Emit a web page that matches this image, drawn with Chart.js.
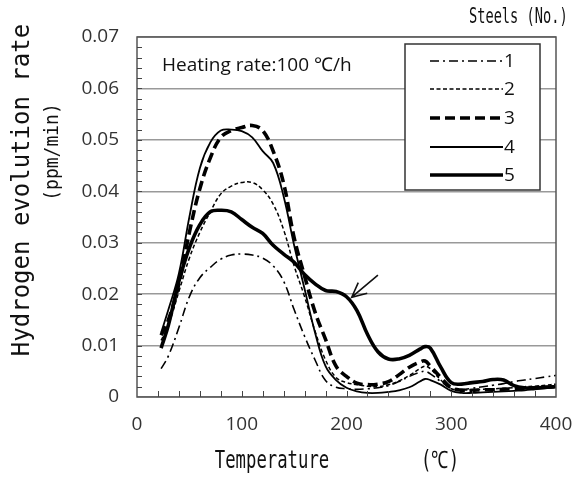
<!DOCTYPE html>
<html>
<head>
<meta charset="utf-8">
<script src="https://cdn.jsdelivr.net/npm/chart.js@4"></script>
<style>
  body { margin: 0; background: #fff; }
</style>
</head>
<body>
<canvas id="tdsChart" width="574" height="477"></canvas>
<script>
// Temperature points (°C) shared by all steels
const temps = [23, 30, 40, 50, 60, 70, 80, 90, 100, 110, 120, 130, 140, 150, 160, 170, 180, 190, 200,
    210, 220, 230, 240, 250, 260, 270, 275, 280, 290, 300, 310, 320, 330, 340, 350, 360, 370, 380, 390, 400];

// Hydrogen evolution rate (ppm/min) per steel
const steel1 = [0.0055, 0.008, 0.0135, 0.0195, 0.0232, 0.0252, 0.0268, 0.0276, 0.0278, 0.0276, 0.027, 0.0255, 0.0225,
    0.017, 0.0118, 0.0072, 0.0032, 0.0019, 0.0016, 0.0015, 0.0016, 0.0018, 0.0022, 0.003, 0.004, 0.0048, 0.005,
    0.0045, 0.003, 0.0017, 0.0015, 0.0017, 0.002, 0.0023, 0.0026, 0.003, 0.0033, 0.0036, 0.0039, 0.0042];
const steel2 = [0.011, 0.014, 0.0205, 0.027, 0.032, 0.036, 0.0395, 0.041, 0.0417, 0.0417, 0.0403, 0.0375, 0.0325,
    0.0255, 0.0195, 0.0128, 0.0072, 0.0038, 0.0028, 0.0024, 0.0021, 0.002, 0.0024, 0.0031, 0.0042, 0.0055, 0.006,
    0.0055, 0.0033, 0.0016, 0.0014, 0.0014, 0.0015, 0.0016, 0.0017, 0.0018, 0.002, 0.0021, 0.0023, 0.0025];
const steel3 = [0.012, 0.015, 0.022, 0.032, 0.0405, 0.0465, 0.0505, 0.0518, 0.0524, 0.0528, 0.0518, 0.0478, 0.0415,
    0.031, 0.0235, 0.0165, 0.0112, 0.006, 0.004, 0.0027, 0.0024, 0.0025, 0.003, 0.0043, 0.0058, 0.0068, 0.007,
    0.006, 0.0038, 0.0018, 0.0013, 0.0013, 0.0014, 0.0014, 0.0015, 0.0016, 0.0017, 0.0018, 0.0019, 0.002];
const steel4 = [0.0125, 0.017, 0.024, 0.035, 0.0445, 0.0495, 0.0518, 0.052, 0.0517, 0.0505, 0.0478, 0.0455, 0.039,
    0.0295, 0.021, 0.0125, 0.006, 0.0033, 0.0018, 0.0011, 0.0008, 0.0008, 0.001, 0.0013, 0.0019, 0.003, 0.0035,
    0.0033, 0.0024, 0.0012, 0.0008, 0.0008, 0.0009, 0.001, 0.0011, 0.0012, 0.0013, 0.0015, 0.0017, 0.002];
const steel5 = [0.0095, 0.014, 0.0225, 0.029, 0.0335, 0.036, 0.0363, 0.036, 0.0345, 0.033, 0.0318, 0.0295, 0.0278,
    0.0262, 0.0238, 0.022, 0.0207, 0.0205, 0.0195, 0.0168, 0.0122, 0.0088, 0.0074, 0.0074, 0.0081, 0.0093, 0.0098,
    0.0095, 0.0058, 0.0028, 0.0025, 0.0028, 0.003, 0.0034, 0.0033, 0.0022, 0.0018, 0.0018, 0.0019, 0.002];

const steelNames = ['1', '2', '3', '4', '5'];
const xTicks = [0, 100, 200, 300, 400];
const yTicks = [0, 0.01, 0.02, 0.03, 0.04, 0.05, 0.06, 0.07];
// arrow pointing at the shoulder of steel 5: [tail, head] in data units
const arrowPts = [[230, 0.0237], [205, 0.0194]];

const lineStyles = [
    { borderWidth: 1.6, borderDash: [9, 4, 2, 4] },
    { borderWidth: 1.5, borderDash: [4, 2.5] },
    { borderWidth: 3.6, borderDash: [10, 5] },
    { borderWidth: 1.8, borderDash: [] },
    { borderWidth: 3.6, borderDash: [] },
];

const toPts = vals => vals.map((v, i) => ({ x: temps[i], y: v }));

const datasets = [steel1, steel2, steel3, steel4, steel5].map((vals, i) => ({
    label: steelNames[i],
    data: toPts(vals),
    borderColor: '#000',
    borderWidth: lineStyles[i].borderWidth,
    borderDash: lineStyles[i].borderDash,
    pointRadius: 0,
    tension: 0.4,
    fill: false,
}));

const tickFont = { family: '"Open Sans"', size: 19 };
const monoFont = '"DejaVu Sans Mono"';

// draw condensed text (the original uses a narrow gothic face)
function narrowText(ctx, text, x, y, size, sx, rot) {
    ctx.save();
    ctx.translate(x, y);
    if (rot) ctx.rotate(rot);
    ctx.scale(sx, 1);
    ctx.font = size + 'px ' + monoFont;
    ctx.fillText(text, 0, 0);
    ctx.restore();
}

// frame, minor ticks, legend box, titles and arrow
const decorPlugin = {
    id: 'decor',
    afterDraw(chart) {
        const ctx = chart.ctx;
        const a = chart.chartArea;
        const xs = chart.scales.x, ys = chart.scales.y;
        ctx.save();

        // plot frame
        ctx.strokeStyle = '#555';
        ctx.lineWidth = 1.5;
        ctx.strokeRect(a.left, a.top, a.right - a.left, a.bottom - a.top);

        // minor ticks
        ctx.lineWidth = 1;
        ctx.strokeStyle = '#444';
        ctx.beginPath();
        for (let i = 1; i < 35; i++) {
            const py = Math.round(ys.getPixelForValue(i * 0.002)) + 0.5;
            ctx.moveTo(a.left, py);
            ctx.lineTo(a.left + 5, py);
        }
        for (let i = 1; i < 20; i++) {
            const px = Math.round(xs.getPixelForValue(i * 20)) + 0.5;
            ctx.moveTo(px, a.bottom);
            ctx.lineTo(px, a.bottom - 6);
        }
        ctx.stroke();

        // arrow
        const t = arrowPts[0], h = arrowPts[1];
        const tx = xs.getPixelForValue(t[0]), ty = ys.getPixelForValue(t[1]);
        const hx = xs.getPixelForValue(h[0]), hy = ys.getPixelForValue(h[1]);
        const ang = Math.atan2(ty - hy, tx - hx);
        ctx.strokeStyle = '#111';
        ctx.lineWidth = 1.6;
        ctx.beginPath();
        ctx.moveTo(tx, ty);
        ctx.lineTo(hx, hy);
        ctx.moveTo(hx + 16 * Math.cos(ang - 0.45), hy + 16 * Math.sin(ang - 0.45));
        ctx.lineTo(hx, hy);
        ctx.lineTo(hx + 16 * Math.cos(ang + 0.45), hy + 16 * Math.sin(ang + 0.45));
        ctx.stroke();

        // legend box
        const box = { x: 405, y: 44, w: 135, h: 146 };
        ctx.fillStyle = '#fff';
        ctx.fillRect(box.x, box.y, box.w, box.h);
        ctx.strokeStyle = '#333';
        ctx.lineWidth = 1.5;
        ctx.strokeRect(box.x, box.y, box.w, box.h);
        const rowY = [61, 89, 118, 147, 175];
        ctx.font = '19px "Open Sans"';
        ctx.textBaseline = 'middle';
        ctx.textAlign = 'left';
        datasets.forEach((ds, i) => {
            ctx.strokeStyle = '#000';
            ctx.lineWidth = ds.borderWidth;
            ctx.setLineDash(ds.borderDash);
            ctx.beginPath();
            ctx.moveTo(430, rowY[i]);
            ctx.lineTo(503, rowY[i]);
            ctx.stroke();
            ctx.setLineDash([]);
            ctx.fillStyle = '#111';
            ctx.fillText(ds.label, 504, rowY[i] + 1);
        });

        ctx.fillStyle = '#111';
        // legend heading
        narrowText(ctx, 'Steels (No.)', 469, 18, 21, 0.65, 0);

        // heating rate note
        ctx.font = '19px "Open Sans"';
        ctx.fillText('Heating rate:100 \u2103/h', 162, 66);

        // axis titles
        ctx.textAlign = 'center';
        narrowText(ctx, 'Hydrogen evolution rate', 23, 190, 24, 1, -Math.PI / 2);
        narrowText(ctx, '(ppm/min)', 53, 152, 20, 0.9, -Math.PI / 2);
        narrowText(ctx, 'Temperature', 272, 462, 24, 0.72, 0);
        narrowText(ctx, '(\u2103)', 440, 462, 24, 0.72, 0);

        ctx.restore();
    }
};

new Chart(document.getElementById('tdsChart'), {
    type: 'line',
    data: { datasets: datasets },
    options: {
        responsive: false,
        devicePixelRatio: 1,
        animation: false,
        layout: { padding: { top: 37, right: 18, bottom: 0, left: 0 } },
        plugins: {
            legend: { display: false },
            tooltip: { enabled: false },
        },
        scales: {
            x: {
                type: 'linear',
                min: 0,
                max: 400,
                afterBuildTicks: scale => { scale.ticks = xTicks.map(v => ({ value: v })); },
                afterFit: scale => {
                    scale.height = 80;
                    scale.paddingLeft = 0;
                    scale.paddingRight = 0;
                },
                grid: { display: false, drawTicks: false },
                border: { display: false },
                ticks: { font: tickFont, color: '#333', padding: 16, maxRotation: 0 },
            },
            y: {
                min: 0,
                max: 0.07,
                afterBuildTicks: scale => { scale.ticks = yTicks.map(v => ({ value: v })); },
                afterFit: scale => { scale.width = 137; },
                grid: { color: '#999', lineWidth: 1.5, drawTicks: false },
                border: { display: false },
                ticks: {
                    font: tickFont,
                    color: '#333',
                    padding: 18,
                    callback: v => v === 0 ? '0' : v.toFixed(2),
                },
            },
        },
    },
    plugins: [decorPlugin],
});
</script>
</body>
</html>
